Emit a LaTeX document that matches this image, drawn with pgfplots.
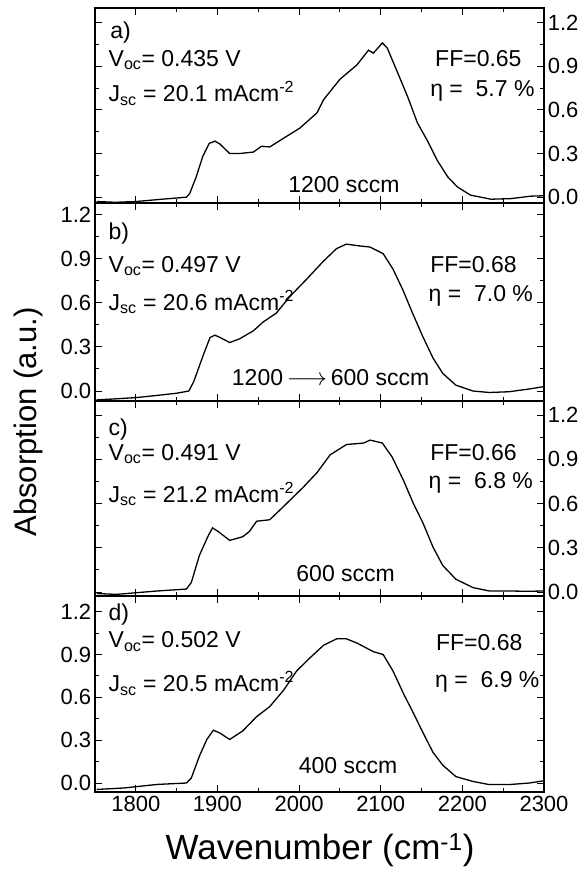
\documentclass[border=0pt]{standalone}
\usepackage{fontspec}
\setmainfont{Liberation Sans}
\usepackage{pgfplots}
\pgfplotsset{compat=1.18}
\newcommand{\ann}{\fontsize{23}{26}\selectfont}
\pgfplotsset{
  panel/.style={
    scale only axis, width=449pt,
    xmin=1750, xmax=2300,
    xtick={1800,1900,2000,2100,2200,2300}, minor x tick num=1,
    ytick={0,0.3,0.6,0.9,1.2}, minor y tick num=1,
    tick align=inside, xtick pos=both, ytick pos=both,
    major tick length=7pt, minor tick length=4pt,
    line width=1.1pt, every tick/.style={line width=1pt},
    tick label style={font=\fontsize{22}{24}\selectfont},
    /pgf/number format/assume math mode=true,
    xticklabel style={/pgf/number format/.cd, set thousands separator={}},
    yticklabel style={/pgf/number format/.cd, fixed, fixed zerofill, precision=1},
  },
  curve/.style={black, line width=1.3pt, no marks},
}
\begin{document}
\begin{tikzpicture}
\path[use as bounding box] (-95pt,8pt) rectangle (487pt,-873pt);
% a)
\begin{axis}[panel, at={(0,0)}, anchor=north west, height=195pt,
  ymin=-0.04, ymax=1.30, yticklabel pos=right, xticklabels={}]
\addplot[curve] coordinates {
(1752,-0.03) (1775,-0.035) (1800,-0.03) (1830,-0.015) (1862,0.0) (1866,0.025)
(1874,0.14) (1882,0.28) (1890,0.37) (1897,0.385) (1903,0.365) (1915,0.30)
(1927,0.30) (1944,0.31) (1954,0.35) (1964,0.345) (1981,0.405) (2001,0.475)
(2022,0.58) (2030,0.67) (2050,0.81) (2071,0.91) (2085,1.01) (2091,0.99)
(2102,1.06) (2108,1.025) (2120,0.865) (2133,0.69) (2145,0.51) (2157,0.39)
(2169,0.255) (2182,0.14) (2194,0.07) (2210,0.014) (2235,-0.014) (2259,-0.01)
(2284,0.007) (2300,0.01)};
\node[anchor=base west,font=\ann] at (axis cs:1764,1.09) {a)};
\node[anchor=base west,font=\ann] at (axis cs:1762,0.90) {V\textsubscript{oc}= 0.435 V};
\node[anchor=base west,font=\ann] at (axis cs:1762,0.655) {J\textsubscript{sc} = 20.1 mAcm\textsuperscript{-2}};
\node[anchor=base west,font=\ann] at (axis cs:2162,0.90) {FF=0.65};
\node[anchor=base west,font=\ann] at (axis cs:2156,0.69) {η =\ \ 5.7 \%};
\node[anchor=base west,font=\ann] at (axis cs:1982,0.034) {1200 sccm};
\end{axis}
% b)
\begin{axis}[panel, at={(0,-195pt)}, anchor=north west, height=198pt,
  ymin=-0.068, ymax=1.28, yticklabel pos=left, xticklabels={}]
\addplot[curve] coordinates {
(1752,-0.06) (1770,-0.055) (1800,-0.045) (1826,-0.03) (1850,-0.015) (1865,0.0)
(1871,0.065) (1883,0.25) (1891,0.365) (1897,0.38) (1903,0.365) (1915,0.33)
(1927,0.355) (1944,0.41) (1956,0.47) (1972,0.53) (1989,0.645) (2009,0.76)
(2030,0.885) (2046,0.97) (2058,1.0) (2071,0.99) (2087,0.98) (2103,0.935)
(2115,0.83) (2127,0.69) (2139,0.53) (2152,0.365) (2164,0.225) (2176,0.12)
(2192,0.04) (2213,0.0) (2233,-0.01) (2257,-0.005) (2282,0.014) (2300,0.03)};
\node[anchor=base west,font=\ann] at (axis cs:1762,1.03) {b)};
\node[anchor=base west,font=\ann] at (axis cs:1762,0.81) {V\textsubscript{oc}= 0.497 V};
\node[anchor=base west,font=\ann] at (axis cs:1762,0.55) {J\textsubscript{sc} = 20.6 mAcm\textsuperscript{-2}};
\node[anchor=base west,font=\ann] at (axis cs:2156,0.81) {FF=0.68};
\node[anchor=base west,font=\ann] at (axis cs:2154,0.61) {η =\ \ 7.0 \%};
\node[anchor=base west,font=\ann] at (axis cs:1913,0.04) {1200\,$\longrightarrow$\,600 sccm};
\end{axis}
% c)
\begin{axis}[panel, at={(0,-393pt)}, anchor=north west, height=195pt,
  ymin=-0.027, ymax=1.295, yticklabel pos=right, xticklabels={}]
\addplot[curve] coordinates {
(1752,-0.01) (1776,-0.016) (1800,-0.005) (1826,0.007) (1862,0.02) (1868,0.065)
(1878,0.25) (1889,0.385) (1894,0.435) (1901,0.41) (1915,0.35) (1931,0.375)
(1939,0.41) (1948,0.48) (1964,0.49) (1981,0.58) (2005,0.71) (2022,0.81)
(2038,0.93) (2058,1.0) (2079,1.01) (2087,1.03) (2102,1.01) (2114,0.915)
(2128,0.755) (2140,0.6) (2152,0.465) (2164,0.305) (2176,0.18) (2192,0.087)
(2213,0.03) (2233,0.007) (2257,0.007) (2280,0.005) (2300,0.007)};
\node[anchor=base west,font=\ann] at (axis cs:1762,1.06) {c)};
\node[anchor=base west,font=\ann] at (axis cs:1762,0.895) {V\textsubscript{oc}= 0.491 V};
\node[anchor=base west,font=\ann] at (axis cs:1762,0.61) {J\textsubscript{sc} = 21.2 mAcm\textsuperscript{-2}};
\node[anchor=base west,font=\ann] at (axis cs:2156,0.895) {FF=0.66};
\node[anchor=base west,font=\ann] at (axis cs:2154,0.705) {η =\ \ 6.8 \%};
\node[anchor=base west,font=\ann] at (axis cs:1992,0.07) {600 sccm};
\end{axis}
% d)
\begin{axis}[panel, at={(0,-588pt)}, anchor=north west, height=196pt,
  ymin=-0.063, ymax=1.31, yticklabel pos=left]
\addplot[curve] coordinates {
(1752,-0.045) (1785,-0.035) (1826,-0.01) (1862,0.0) (1868,0.035) (1878,0.19)
(1887,0.305) (1895,0.37) (1903,0.35) (1915,0.305) (1931,0.365) (1948,0.465)
(1964,0.535) (1981,0.65) (1997,0.785) (2013,0.875) (2030,0.965) (2046,1.01)
(2058,1.01) (2071,0.98) (2091,0.92) (2103,0.9) (2115,0.785) (2128,0.625)
(2140,0.49) (2152,0.35) (2164,0.215) (2176,0.125) (2192,0.045) (2213,0.011)
(2233,-0.011) (2257,-0.011) (2282,0.0) (2300,0.016)};
\node[anchor=base west,font=\ann] at (axis cs:1762,1.14) {d)};
\node[anchor=base west,font=\ann] at (axis cs:1762,0.95) {V\textsubscript{oc}= 0.502 V};
\node[anchor=base west,font=\ann] at (axis cs:1762,0.64) {J\textsubscript{sc} = 20.5 mAcm\textsuperscript{-2}};
\node[anchor=base west,font=\ann] at (axis cs:2163,0.93) {FF=0.68};
\node[anchor=base west,font=\ann] at (axis cs:2162,0.67) {η =\ \ 6.9 \%};
\node[anchor=base west,font=\ann] at (axis cs:1995,0.07) {400 sccm};
\end{axis}
\node[font=\fontsize{35}{38}\selectfont] at (225pt,-842pt) {Wavenumber (cm\textsuperscript{-1})};
\node[font=\fontsize{31}{34}\selectfont, rotate=90] at (-67pt,-414pt) {Absorption (a.u.)};
\end{tikzpicture}
\end{document}
